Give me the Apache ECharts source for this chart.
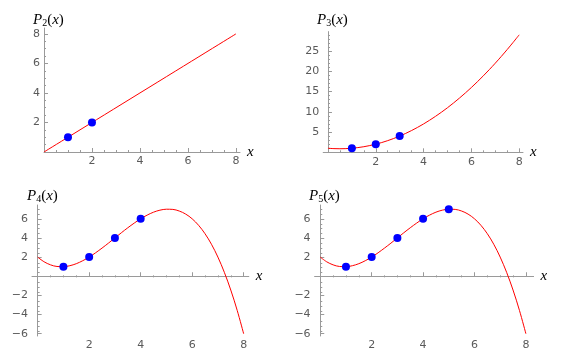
<!DOCTYPE html>
<html>
<head>
<meta charset="utf-8">
<script src="https://cdn.jsdelivr.net/npm/echarts@6/dist/echarts.min.js"></script>
<style>
  html, body { margin: 0; background: #fff; }
  #chart { width: 568px; height: 351px; }
</style>
</head>
<body>
<div id="chart"></div>
<script>
// values
const curveX = [0, 0.25, 0.5, 0.75, 1, 1.25, 1.5, 1.75, 2, 2.25, 2.5, 2.75, 3, 3.25, 3.5, 3.75,
  4, 4.25, 4.5, 4.75, 5, 5.25, 5.5, 5.75, 6, 6.25, 6.5, 6.75, 7, 7.25, 7.5, 7.75, 8];
const p2CurveX = [0, 8];
const p2CurveY = [0, 8];
const p3CurveY = [1, 0.91, 0.88, 0.91, 1, 1.16, 1.38, 1.66, 2, 2.41, 2.88, 3.41, 4, 4.66, 5.38, 6.16,
  7, 7.91, 8.88, 9.91, 11, 12.16, 13.38, 14.66, 16, 17.41, 18.88, 20.41, 22, 23.66, 25.38, 27.16, 29];
const p4CurveY = [2, 1.51, 1.19, 1.02, 1, 1.1, 1.31, 1.62, 2, 2.45, 2.94, 3.46, 4, 4.54, 5.06, 5.55,
  6, 6.38, 6.69, 6.9, 7, 6.98, 6.81, 6.49, 6, 5.32, 4.44, 3.34, 2, 0.41, -1.44, -3.57, -6];
const p5CurveY = [2, 1.51, 1.19, 1.02, 1, 1.1, 1.31, 1.62, 2, 2.45, 2.94, 3.46, 4, 4.54, 5.06, 5.55,
  6, 6.38, 6.69, 6.9, 7, 6.98, 6.81, 6.49, 6, 5.32, 4.44, 3.34, 2, 0.41, -1.44, -3.57, -6];
const nodeX = [1, 2, 3, 4, 5];
const nodeY = [1, 2, 4, 6, 7];

const xTickLabels = [2, 4, 6, 8];
const p2YTicks = [2, 4, 6, 8];
const p3YTicks = [5, 10, 15, 20, 25];
const p4YTicks = [-6, -4, -2, 2, 4, 6];
const p5YTicks = [-6, -4, -2, 2, 4, 6];

const panels = [
  { sub: '2', xs: p2CurveX, ys: p2CurveY, nodes: 2, yTicks: p2YTicks, yMinor: 0.5, yMajor: 2,
    xMin: 0, xMax: 8.17, yMin: 0, yMax: 8.4,
    box: { left: 44, top: 28, width: 196, height: 124 }, title: [28, 8] },
  { sub: '3', xs: curveX, ys: p3CurveY, nodes: 3, yTicks: p3YTicks, yMinor: 1, yMajor: 5,
    xMin: -0.2, xMax: 8.16, yMin: 0, yMax: 29.8,
    box: { left: 323.2, top: 31.6, width: 199.8, height: 120.7 }, title: [312, 8] },
  { sub: '4', xs: curveX, ys: p4CurveY, nodes: 4, yTicks: p4YTicks, yMinor: 0.5, yMajor: 2,
    xMin: -0.22, xMax: 8.2, yMin: -6.24, yMax: 7.44,
    box: { left: 32, top: 205, width: 216.8, height: 133 }, title: [22, 184] },
  { sub: '5', xs: curveX, ys: p5CurveY, nodes: 5, yTicks: p5YTicks, yMinor: 0.5, yMajor: 2,
    xMin: -0.22, xMax: 8.3, yMin: -6.24, yMax: 7.44,
    box: { left: 314.6, top: 205, width: 219, height: 133 }, title: [304, 184] },
];

const axisGray = '#9a9a9a';
const labelGray = '#5a5a5a';
const serif = 'Liberation Serif';
const tickFont = { color: labelGray, fontSize: 11, fontFamily: 'DejaVu Sans', margin: 4 };

function minorValues(min, max, step, major) {
  const out = [];
  const isMajor = (v) => Math.abs(v / major - Math.round(v / major)) < 1e-6;
  for (let v = step; v < max; v += step) if (!isMajor(v)) out.push(+v.toFixed(3));
  for (let v = -step; v > min; v -= step) if (!isMajor(v)) out.push(+v.toFixed(3));
  return out;
}

const minus = (v) => String(v).replace('-', '\u2212');

const grid = [];
const xAxis = [];
const yAxis = [];
const series = [];
const title = [];

panels.forEach((p, i) => {
  grid.push({ ...p.box, containLabel: false });
  grid.push({ ...p.box, containLabel: false });

  xAxis.push({
    type: 'value', gridIndex: 2 * i, min: p.xMin, max: p.xMax,
    name: 'x', nameLocation: 'end', nameGap: 7,
    nameTextStyle: { fontFamily: serif, fontStyle: 'italic', fontSize: 15, color: '#000' },
    axisLine: { show: true, onZero: true, lineStyle: { color: axisGray, width: 1 } },
    axisTick: { show: true, inside: true, length: 4, customValues: xTickLabels, lineStyle: { color: axisGray } },
    axisLabel: { customValues: xTickLabels, ...tickFont },
    splitLine: { show: false },
  });
  // second copy of the axes only for the small ticks
  xAxis.push({
    type: 'value', gridIndex: 2 * i + 1, min: p.xMin, max: p.xMax,
    axisLine: { show: false, onZero: true },
    axisTick: { show: true, inside: true, length: 2, customValues: minorValues(p.xMin, p.xMax, 0.5, 2), lineStyle: { color: axisGray } },
    axisLabel: { show: false },
    splitLine: { show: false },
  });

  yAxis.push({
    type: 'value', gridIndex: 2 * i, min: p.yMin, max: p.yMax,
    axisLine: { show: true, onZero: true, lineStyle: { color: axisGray, width: 1 } },
    axisTick: { show: true, inside: true, length: 4, customValues: p.yTicks, lineStyle: { color: axisGray } },
    axisLabel: { customValues: p.yTicks, formatter: minus, ...tickFont },
    splitLine: { show: false },
  });
  yAxis.push({
    type: 'value', gridIndex: 2 * i + 1, min: p.yMin, max: p.yMax,
    axisLine: { show: false, onZero: true },
    axisTick: { show: true, inside: true, length: 2, customValues: minorValues(p.yMin, p.yMax, p.yMinor, p.yMajor), lineStyle: { color: axisGray } },
    axisLabel: { show: false },
    splitLine: { show: false },
  });

  series.push({
    type: 'line', xAxisIndex: 2 * i, yAxisIndex: 2 * i,
    data: p.xs.map((x, k) => [x, p.ys[k]]),
    smooth: 0.35, showSymbol: false, silent: true,
    lineStyle: { color: '#ff0000', width: 1 },
  });
  series.push({
    type: 'scatter', xAxisIndex: 2 * i, yAxisIndex: 2 * i, z: 3,
    data: nodeX.slice(0, p.nodes).map((x, k) => [x, nodeY[k]]),
    symbolSize: 8, itemStyle: { color: '#0000ff', opacity: 1 },
  });

  title.push({
    left: p.title[0], top: p.title[1],
    text: `{i|P}{s|${p.sub}}{r|(}{i|x}{r|)}`,
    textStyle: {
      fontWeight: 'normal',
      rich: {
        i: { fontFamily: serif, fontStyle: 'italic', fontWeight: 'normal', fontSize: 15, color: '#000' },
        r: { fontFamily: serif, fontWeight: 'normal', fontSize: 15, color: '#000' },
        s: { fontFamily: serif, fontWeight: 'normal', fontSize: 10, color: '#000', padding: [5, 0, 0, 0] },
      },
    },
  });
});

const chart = echarts.init(document.getElementById('chart'), null, { renderer: 'canvas' });
chart.setOption({
  animation: false,
  backgroundColor: '#fff',
  title,
  grid,
  xAxis,
  yAxis,
  series,
});
</script>
</body>
</html>
